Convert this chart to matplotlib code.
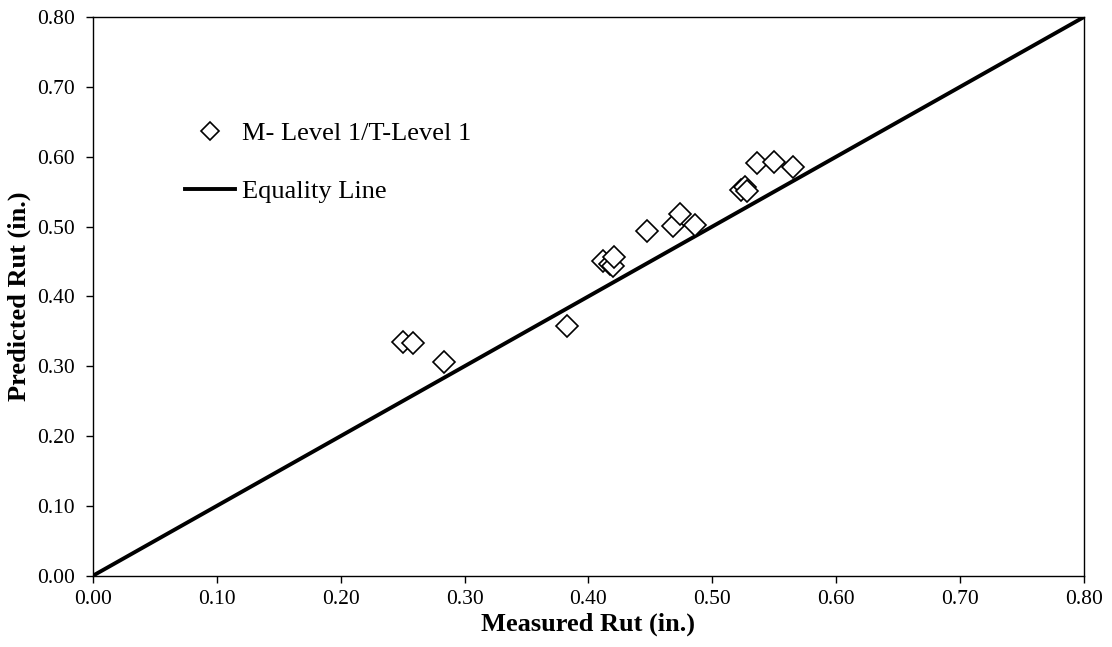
import numpy as np
import matplotlib
matplotlib.use("Agg")
import matplotlib.pyplot as plt

plt.rcParams['font.family'] = ['Liberation Serif', 'DejaVu Serif']

# measured vs predicted rut depth (in.)
measured = [0.250, 0.258, 0.283, 0.383,
            0.412, 0.417, 0.420, 0.421,
            0.447, 0.468, 0.474, 0.486,
            0.523, 0.526, 0.528,
            0.536, 0.550, 0.565]
predicted = [0.335, 0.333, 0.306, 0.357,
             0.451, 0.447, 0.443, 0.457,
             0.494, 0.501, 0.518, 0.502,
             0.553, 0.557, 0.551,
             0.591, 0.593, 0.585]
equality = [0.0, 0.8]
ticks = np.arange(0, 0.81, 0.1)

fig = plt.figure(figsize=(11.12, 6.47), dpi=100)
ax = fig.add_axes([0.0836, 0.1102, 0.8912, 0.8635])

ax.plot(measured, predicted, 'D', ms=11.5, mfc='white', mec='black', mew=1.2,
        linestyle='none', label='M- Level 1/T-Level 1', zorder=3)
ax.plot(equality, equality, 'k-', lw=2.8, label='Equality Line', zorder=2)

ax.set_xlim(0, 0.8)
ax.set_ylim(0, 0.8)
ax.set_xticks(ticks)
ax.set_yticks(ticks)
ax.xaxis.set_major_formatter(plt.FormatStrFormatter('%.2f'))
ax.yaxis.set_major_formatter(plt.FormatStrFormatter('%.2f'))
ax.tick_params(direction='out', length=5, width=1, labelsize=15.5)
ax.tick_params(axis='x', pad=5)
ax.tick_params(axis='y', pad=8)
for s in ax.spines.values():
    s.set_linewidth(1.0)
    s.set_color('black')

ax.set_xlabel('Measured Rut (in.)', fontsize=19, fontweight='bold', labelpad=3)
ax.set_ylabel('Predicted Rut (in.)', fontsize=19, fontweight='bold', labelpad=4)

leg = ax.legend(loc='upper left', bbox_to_anchor=(0.0928, 0.813), frameon=False,
                fontsize=19, handlelength=1.9, handletextpad=0.25,
                labelspacing=1.3, markerscale=0.8, borderpad=0, borderaxespad=0)

fig.savefig('out.png', dpi=100)
